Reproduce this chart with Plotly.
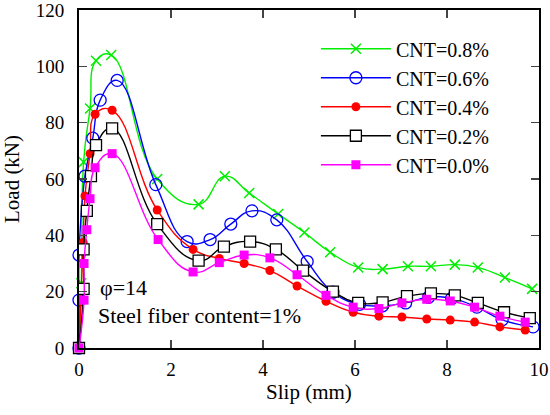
import plotly.graph_objects as go

# CNT = 0.8 %
x08 = [0, 0.05, 0.10, 0.24, 0.37, 0.70, 1.70, 2.60, 3.17, 3.70, 4.33, 4.90, 5.46, 6.07, 6.60, 7.15, 7.65, 8.17, 8.67, 9.26, 9.85]
y08 = [0, 23, 66, 85, 102, 104, 60, 51, 61, 55, 47.6, 41, 34, 28.6, 28, 29, 29, 29.6, 28.6, 25, 21]
# CNT = 0.6 %
x06 = [0, 0.0, 0.0, 0.13, 0.30, 0.46, 0.83, 1.67, 2.35, 2.85, 3.30, 3.76, 4.30, 4.96, 5.52, 6.10, 6.60, 7.10, 7.60, 8.10, 8.65, 9.20, 9.87]
y06 = [0, 17, 33, 61, 74.5, 88, 95, 58, 37.8, 38.5, 44, 48.7, 45.5, 30.7, 19.8, 15.5, 15, 16, 18, 17.6, 14.5, 10, 7.5]
# CNT = 0.4 %
x04 = [0, 0.09, 0.13, 0.24, 0.35, 0.72, 1.70, 2.48, 3.05, 3.59, 4.15, 4.74, 5.37, 5.96, 6.52, 7.02, 7.56, 8.07, 8.60, 9.15, 9.70]
y04 = [0, 37.5, 54, 69, 83, 84.4, 49, 35, 31.8, 30, 27.5, 22, 16.6, 12.7, 11.3, 11, 10.3, 9.9, 9.2, 7.5, 6.4]
# CNT = 0.2 %
x02 = [0, 0.10, 0.10, 0.17, 0.26, 0.37, 0.72, 1.70, 2.60, 3.15, 3.72, 4.28, 4.87, 5.52, 6.07, 6.60, 7.13, 7.65, 8.17, 8.67, 9.24, 9.80]
y02 = [0, 21, 35, 48.7, 61, 72, 78, 44, 31, 36, 37.8, 35, 27.5, 20, 16, 16.2, 18.4, 19.4, 18.7, 16, 12.7, 10.6]
# CNT = 0.0 %
x00 = [0, 0.11, 0.11, 0.17, 0.24, 0.35, 0.72, 1.72, 2.48, 3.05, 3.59, 4.15, 4.74, 5.37, 5.96, 6.52, 7.02, 7.56, 8.07, 8.60, 9.15, 9.70]
y00 = [0, 17, 30, 42, 53, 64, 69, 38.5, 27, 30.3, 33, 32, 26, 18.7, 14.5, 14, 16, 17.3, 16.7, 14.5, 11.3, 9.2]

x_ticks = [0, 2, 4, 6, 8, 10]
y_ticks = [0, 20, 40, 60, 80, 100, 120]

series = [
    ("CNT=0.8%", x08, y08, "#00ee00", dict(symbol="x-thin", size=10, line=dict(color="#00ee00", width=1.5))),
    ("CNT=0.6%", x06, y06, "#0000ff", dict(symbol="circle-open", size=12, color="#0000ff", line=dict(width=1.3))),
    ("CNT=0.4%", x04, y04, "#ff0000", dict(symbol="circle", size=9, color="#ff0000")),
    ("CNT=0.2%", x02, y02, "#000000", dict(symbol="square", size=11, color="white", line=dict(color="#000000", width=1.3))),
    ("CNT=0.0%", x00, y00, "#ff00ff", dict(symbol="square", size=9, color="#ff00ff")),
]

fig = go.Figure()
for name, xs, ys, col, mk in series:
    fig.add_trace(go.Scatter(
        x=xs, y=ys, name=name, mode="lines+markers",
        line=dict(color=col, width=1.4, shape="spline", smoothing=1.3),
        marker=mk, cliponaxis=False,
    ))

font = "Liberation Serif, Times New Roman, serif"
fig.update_layout(
    width=550, height=415,
    margin=dict(l=79, r=11, t=10, b=67),
    paper_bgcolor="white", plot_bgcolor="white",
    font=dict(family=font, size=21, color="black"),
    showlegend=True,
    legend=dict(x=0.515, y=0.943, xanchor="left", yanchor="top",
                bgcolor="rgba(0,0,0,0)", font=dict(family=font, size=20),
                itemwidth=70, tracegroupgap=0),
    annotations=[
        dict(text="φ=14", x=0.42, y=21.5, xref="x", yref="y", xanchor="left", yanchor="middle",
             showarrow=False, font=dict(family=font, size=22)),
        dict(text="Steel fiber content=1%", x=0.38, y=11.5, xref="x", yref="y", xanchor="left",
             yanchor="middle", showarrow=False, font=dict(family=font, size=22)),
    ],
)
fig.update_xaxes(range=[0, 10], tickvals=x_ticks, ticks="inside", ticklen=8, tickwidth=1.5,
                 showline=True, linewidth=2, linecolor="black", mirror="ticks",
                 showgrid=False, zeroline=False, automargin=False, ticklabelstandoff=3,
                 ticklabeloverflow="allow",
                 title=dict(text="Slip (mm)", standoff=6, font=dict(size=21)),
                 tickfont=dict(size=19))
fig.update_yaxes(range=[0, 120], tickvals=y_ticks, ticks="inside", ticklen=8, tickwidth=1.5,
                 showline=True, linewidth=2, linecolor="black", mirror="ticks",
                 showgrid=False, zeroline=False, automargin=False, ticklabelstandoff=9,
                 ticklabeloverflow="allow",
                 title=dict(text="Load (kN)", standoff=10, font=dict(size=21)),
                 tickfont=dict(size=19))

fig.write_html("out.html", config={"displayModeBar": False, "staticPlot": True},
               post_script="document.body.style.margin='0';document.body.style.overflow='hidden';")
